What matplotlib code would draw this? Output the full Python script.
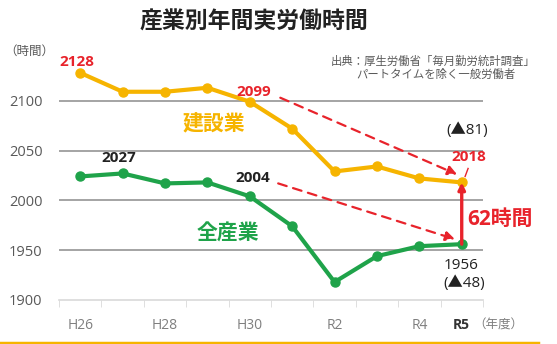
import matplotlib
matplotlib.use('Agg')
import matplotlib.pyplot as plt

plt.rcParams['font.family'] = ['Open Sans', 'Noto Sans CJK JP', 'DejaVu Sans']

# 年度と実労働時間
years = ['H26', 'H27', 'H28', 'H29', 'H30', 'R1', 'R2', 'R3', 'R4', 'R5']
year_labels = ['H26', '', 'H28', '', 'H30', '', 'R2', '', 'R4', 'R5']
construction = [2128, 2109, 2109, 2113, 2099, 2072, 2029, 2034, 2022, 2018]
all_industry = [2024, 2027, 2017, 2018, 2004, 1974, 1918, 1944, 1954, 1956]
yticks = [1900, 1950, 2000, 2050, 2100]

yellow = '#F6B400'
green = '#1FA34A'
red = '#E8232B'
gray = '#595959'

fig = plt.figure(figsize=(5.57, 3.44), dpi=100)
ax = fig.add_axes([0.106, 0.128, 0.761, 0.724])

x = list(range(len(years)))
ax.plot(x, construction, color=yellow, lw=3, marker='o', ms=6.5, zorder=3)
ax.plot(x, all_industry, color=green, lw=3, marker='o', ms=6.5, zorder=3)

ax.set_xlim(-0.5, len(years) - 0.5)
ax.set_ylim(1900, 2150)
ax.set_yticks(yticks)
ax.set_yticklabels([str(v) for v in yticks], fontsize=10.5, color=gray)
ax.tick_params(axis='y', length=0, pad=12)

ax.set_xticks(x)
ax.set_xticklabels(year_labels, fontsize=10, color='#7f7f7f')
ax.get_xticklabels()[-1].set_color('#333333')
ax.get_xticklabels()[-1].set_fontweight('bold')
ax.tick_params(axis='x', which='major', length=0, pad=13)
ax.set_xticks([i - 0.5 for i in range(len(years) + 1)], minor=True)
ax.tick_params(axis='x', which='minor', length=5, color='#d9d9d9', direction='out')

for v in yticks[1:]:
    ax.axhline(v, color='#8c8c8c', lw=1.1, zorder=1)
for s in ['top', 'right', 'left']:
    ax.spines[s].set_visible(False)
ax.spines['bottom'].set_color('#d9d9d9')
ax.spines['bottom'].set_linewidth(1.2)

# 数値ラベル
first, h30, last = 0, 4, len(years) - 1
ax.text(first - 0.07, construction[first] + 11, str(construction[first]), color=red,
        fontsize=11, fontweight='bold', ha='center', va='center')
ax.text(h30 + 0.1, construction[h30] + 10, str(construction[h30]), color=red,
        fontsize=11, fontweight='bold', ha='center', va='center')
ax.text(1 - 0.1, all_industry[1] + 16, str(all_industry[1]), color='#222222',
        fontsize=11, fontweight='bold', ha='center', va='center')
ax.text(h30 + 0.06, all_industry[h30] + 18, str(all_industry[h30]), color='#222222',
        fontsize=11, fontweight='bold', ha='center', va='center')

ax.text(3.14, 2076, '建設業', color=yellow, fontsize=15, fontweight='bold',
        ha='center', va='center')
ax.text(3.49, 1966, '全産業', color=green, fontsize=15, fontweight='bold',
        ha='center', va='center')

ax.text(last + 0.13, 2070, '(▲%d)' % (construction[h30] - construction[last]),
        color='#222222', fontsize=11, ha='center', va='center')
ax.text(last + 0.17, construction[last] + 26, str(construction[last]), color=red,
        fontsize=11, fontweight='bold', ha='center', va='center')
ax.text(last + 0.91, 1981, '%d時間' % (construction[last] - all_industry[last]),
        color=red, fontsize=15, fontweight='bold', ha='center', va='center',
        clip_on=False)
ax.text(last - 0.01, all_industry[last] - 21, str(all_industry[last]), color='#222222',
        fontsize=11, ha='center', va='center')
ax.text(last + 0.06, all_industry[last] - 39, '(▲%d)' % (all_industry[h30] - all_industry[last]),
        color='#222222', fontsize=11, ha='center', va='center')

# 矢印
dash = dict(arrowstyle='-|>,head_length=0.55,head_width=0.28', color=red, lw=1.6,
            ls=(0, (4, 3)), shrinkA=0, shrinkB=0)
ax.annotate('', xy=(8.89, 2026), xytext=(4.72, 2103), arrowprops=dash, zorder=4)
ax.annotate('', xy=(8.84, 1961), xytext=(4.67, 2017), arrowprops=dash, zorder=4)
ax.annotate('', xy=(last, construction[last]), xytext=(last, all_industry[last]),
            arrowprops=dict(arrowstyle='-|>,head_length=0.4,head_width=0.2', color=red,
                            lw=2.4, shrinkA=0, shrinkB=0), zorder=5)
ax.plot([9.15, 9.08], [2032, 2024], color=red, lw=1, zorder=5)

# 見出し・注記
fig.text(0.456, 0.933, '産業別年間実労働時間', fontsize=16.5, fontweight='bold',
         color='#222222', ha='center', va='center')
fig.text(0.052, 0.852, '（時間）', fontsize=9, color=gray, ha='center', va='center')
fig.text(0.777, 0.820, '出典：厚生労働省「毎月勤労統計調査」', fontsize=8.2, color=gray,
         ha='center', va='center')
fig.text(0.783, 0.782, 'パートタイムを除く一般労働者', fontsize=8.2, color=gray,
         ha='center', va='center')
fig.text(0.895, 0.055, '（年度）', fontsize=9, color='#7f7f7f', ha='center', va='center')

fig.add_artist(plt.Line2D([0, 0.965], [0.004, 0.004], color=yellow, lw=2.5,
                          transform=fig.transFigure))

plt.savefig('out.png', dpi=100)
